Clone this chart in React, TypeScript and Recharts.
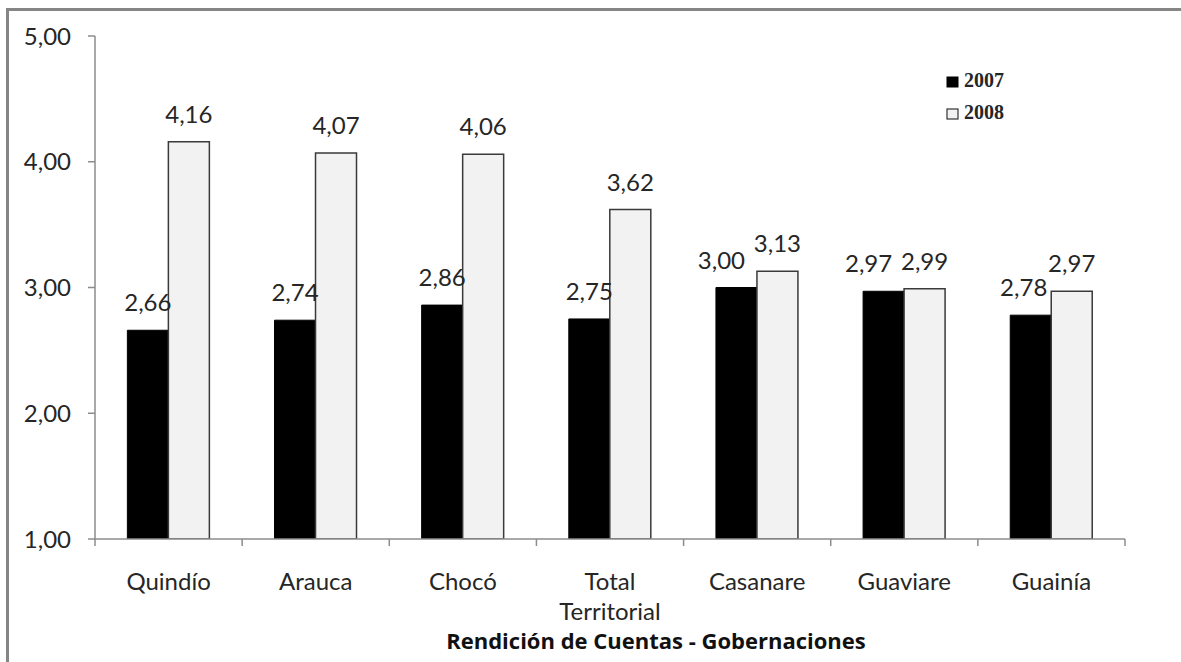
import React from 'react';
import { BarChart, Bar, XAxis, YAxis, LabelList, Legend } from 'recharts';

const categories = ['Quindío', 'Arauca', 'Chocó', 'Total Territorial', 'Casanare', 'Guaviare', 'Guainía'];
const values2007 = [2.66, 2.74, 2.86, 2.75, 3.0, 2.97, 2.78];
const values2008 = [4.16, 4.07, 4.06, 3.62, 3.13, 2.99, 2.97];
const yTicks = [1, 2, 3, 4, 5];
const seriesNames = ['2007', '2008'];
const title = 'Rendición de Cuentas - Gobernaciones';

const data = categories.map((c, i) => ({ name: c, y2007: values2007[i], y2008: values2008[i] }));

const FONT = 'Lato, "Open Sans", sans-serif';
const TEXT = '#262626';
const AXIS = '#8c8c8c';

const fmt = (v: number) => v.toFixed(2).replace('.', ',');

const CategoryTick = (props: any) => {
  const { x, y, payload, index, visibleTicksCount, width } = props;
  const count = visibleTicksCount || categories.length;
  const band = (typeof width === 'number' && width > 0 ? width : 1030) / count;
  const axisY = y - 7;
  const lines = String(payload.value).split(' ');
  return (
    <g>
      <line x1={x - band / 2} y1={axisY} x2={x - band / 2} y2={axisY + 7} stroke={AXIS} strokeWidth={1.5} />
      {index === count - 1 && (
        <line x1={x + band / 2} y1={axisY} x2={x + band / 2} y2={axisY + 7} stroke={AXIS} strokeWidth={1.5} />
      )}
      <text x={x} y={axisY + 51} textAnchor="middle" fontFamily={FONT} fontSize={24} fill={TEXT}>
        {lines.map((l, i) => (
          <tspan key={i} x={x} dy={i === 0 ? 0 : 30}>
            {l}
          </tspan>
        ))}
      </text>
    </g>
  );
};

const makeLabel = (own: number[], other: number[], isFirst: boolean) => (props: any) => {
  const { x, y, width, index } = props;
  const v = own[index];
  let shift = 0;
  if (isFirst) {
    const diff = Math.abs(other[index] - v);
    if (diff < 0.15) shift = -15;
    else if (diff < 0.25) shift = -7;
  }
  return (
    <text
      x={x + width / 2 + shift}
      y={y - 19}
      textAnchor="middle"
      fontFamily={FONT}
      fontSize={24}
      fill={TEXT}
    >
      {fmt(v)}
    </text>
  );
};

const renderLegend = () => (
  <svg width={90} height={60} style={{ display: 'block' }}>
    <rect x={2} y={7} width={11} height={10} fill="#000" stroke="#000" />
    <text x={19} y={17} fontFamily='"Liberation Serif", serif' fontWeight="bold" fontSize={20} fill={TEXT}>
      {seriesNames[0]}
    </text>
    <rect x={2} y={39} width={11} height={10} fill="#f2f2f2" stroke="#333" strokeWidth={1.2} />
    <text x={19} y={49} fontFamily='"Liberation Serif", serif' fontWeight="bold" fontSize={20} fill={TEXT}>
      {seriesNames[1]}
    </text>
  </svg>
);

const TitleLabel = (props: any) => {
  const vb = props.viewBox || { x: 95, y: 539, width: 1030 };
  return (
    <text
      x={vb.x + vb.width / 2 + 46}
      y={vb.y + 110}
      textAnchor="middle"
      fontFamily='"Open Sans", Lato, sans-serif'
      fontWeight="bold"
      fontSize={22}
      fill="#111"
    >
      {title}
    </text>
  );
};

export default function App() {
  return (
    <div
      style={{
        position: 'absolute',
        left: 0,
        top: 0,
        width: 1181,
        height: 662,
        background: '#fff',
        overflow: 'hidden',
      }}
    >
      <svg
        width={1181}
        height={662}
        style={{ position: 'absolute', left: 0, top: 0 }}
      >
        <polyline points="7.5,662 7.5,9.5 1181,9.5" fill="none" stroke="#858585" strokeWidth={3} />
      </svg>
      <div style={{ position: 'absolute', left: 0, top: 0 }}>
        <BarChart
          width={1181}
          height={662}
          data={data}
          margin={{ top: 36, right: 56, left: 15, bottom: 23 }}
          barGap={0}
          barCategoryGap="22%"
        >
          <YAxis
            domain={[1, 5]}
            ticks={yTicks}
            width={80}
            tickFormatter={fmt}
            tick={{ fontFamily: FONT, fontSize: 24, fill: TEXT }}
            tickSize={7}
            tickMargin={17}
            axisLine={{ stroke: AXIS, strokeWidth: 1.5 }}
            tickLine={{ stroke: AXIS, strokeWidth: 1.5 }}
            allowDataOverflow
          />
          <XAxis
            dataKey="name"
            height={100}
            interval={0}
            tickSize={7}
            tickMargin={0}
            tickLine={false}
            axisLine={{ stroke: AXIS, strokeWidth: 1.5 }}
            tick={<CategoryTick />}
            label={<TitleLabel />}
          />
          <Legend
            layout="vertical"
            align="center"
            verticalAlign="middle"
            content={renderLegend}
            wrapperStyle={{ position: 'absolute', left: 945, top: 70, width: 90, height: 60 }}
          />
          <Bar dataKey="y2007" name={seriesNames[0]} fill="#000" stroke="#000" strokeWidth={1} isAnimationActive={false}>
            <LabelList dataKey="y2007" content={makeLabel(values2007, values2008, true)} />
          </Bar>
          <Bar dataKey="y2008" name={seriesNames[1]} fill="#f2f2f2" stroke="#3a3a3a" strokeWidth={1.5} isAnimationActive={false}>
            <LabelList dataKey="y2008" content={makeLabel(values2008, values2007, false)} />
          </Bar>
        </BarChart>
      </div>
    </div>
  );
}
